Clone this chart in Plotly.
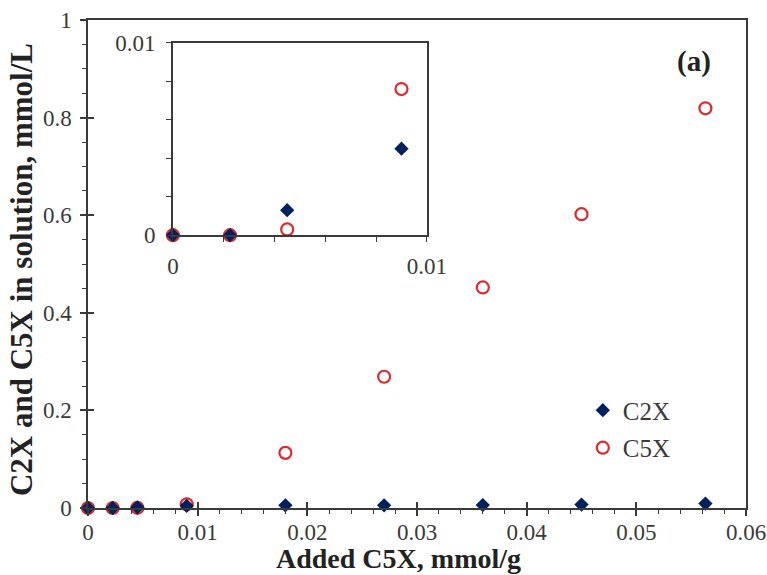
import plotly.graph_objects as go

# ---- data ----
added_c5x = [0, 0.00225, 0.0045, 0.009, 0.018, 0.027, 0.036, 0.045, 0.0563]
c2x_sol = [0, 0, 0.0013, 0.0045, 0.0055, 0.0055, 0.006, 0.007, 0.009]
c5x_sol = [0, 0, 0.0003, 0.0076, 0.113, 0.269, 0.452, 0.602, 0.819]

inset_x_ticks = [0, 0.002, 0.004, 0.006, 0.008, 0.01]
inset_x_labels = ["0", "", "", "", "", "0.01"]
inset_y_ticks = [0, 0.002, 0.004, 0.006, 0.008, 0.01]
inset_y_labels = ["0", "", "", "", "", "0.01"]

NAVY = "#002060"
RED = "#E0282C"
AX = "#3a3a3a"
FONT = "Liberation Serif, Times New Roman, serif"

fig = go.Figure()

# main plot
fig.add_trace(go.Scatter(x=added_c5x, y=c5x_sol, mode="markers", name="C5X",
                         legendgroup="b", legendrank=2,
                         marker=dict(symbol="circle-open", size=12, color=RED,
                                     line=dict(width=2.2, color=RED)),
                         cliponaxis=False, xaxis="x", yaxis="y"))
fig.add_trace(go.Scatter(x=added_c5x, y=c2x_sol, mode="markers", name="C2X",
                         legendgroup="a", legendrank=1,
                         marker=dict(symbol="diamond", size=11, color=NAVY),
                         cliponaxis=False, xaxis="x", yaxis="y"))

# inset (first four points)
fig.add_trace(go.Scatter(x=added_c5x[:4], y=c5x_sol[:4], mode="markers", showlegend=False,
                         marker=dict(symbol="circle-open", size=12, color=RED,
                                     line=dict(width=2.2, color=RED)),
                         cliponaxis=False, xaxis="x2", yaxis="y2"))
fig.add_trace(go.Scatter(x=added_c5x[:4], y=c2x_sol[:4], mode="markers", showlegend=False,
                         marker=dict(symbol="diamond", size=11, color=NAVY),
                         cliponaxis=False, xaxis="x2", yaxis="y2"))

# empty trace to activate overlay axes (inner half of crossing ticks)
fig.add_trace(go.Scatter(x=[], y=[], showlegend=False, xaxis="x3", yaxis="y3",
                         hoverinfo="skip"))

tickfont = dict(family=FONT, size=23, color=AX)

fig.update_layout(
    template="none",
    width=767, height=575,
    margin=dict(l=88, r=21, t=20, b=67, autoexpand=False),
    paper_bgcolor="white", plot_bgcolor="white",
    font=dict(family=FONT, color=AX),
    showlegend=True,
    legend=dict(x=0.752, y=0.162, xanchor="left", yanchor="middle",
                traceorder="grouped", tracegroupgap=2,
                font=dict(family=FONT, size=25, color=AX),
                bgcolor="rgba(0,0,0,0)", itemwidth=30),
    xaxis=dict(domain=[0, 1], range=[0, 0.06], dtick=0.01, anchor="y",
               automargin=False,
               showline=True, linecolor=AX, linewidth=1.5, mirror=True,
               ticks="outside", ticklen=6, tickwidth=1.5, tickcolor=AX,
               showgrid=False, zeroline=False, tickfont=tickfont,
               ticklabelstandoff=-3,
               minor=dict(dtick=0.002, ticks="outside", ticklen=4, tickwidth=1.2,
                          tickcolor=AX, showgrid=False)),
    yaxis=dict(domain=[0, 1], range=[0, 1], dtick=0.2, anchor="x",
               automargin=False,
               showline=True, linecolor=AX, linewidth=1.5, mirror=True,
               ticks="outside", ticklen=6, tickwidth=1.5, tickcolor=AX,
               showgrid=False, zeroline=False, tickfont=tickfont,
               ticklabelstandoff=4,
               minor=dict(dtick=0.05, ticks="outside", ticklen=4, tickwidth=1.2,
                          tickcolor=AX, showgrid=False)),
    xaxis3=dict(overlaying="x", anchor="y3", range=[0, 0.06], dtick=0.01,
                automargin=False,
                ticks="inside", ticklen=6, tickwidth=1.5, tickcolor=AX,
                showticklabels=False, showgrid=False, zeroline=False, showline=False),
    yaxis3=dict(overlaying="y", anchor="x3", range=[0, 1], dtick=0.2,
                automargin=False,
                ticks="inside", ticklen=6, tickwidth=1.5, tickcolor=AX,
                showticklabels=False, showgrid=False, zeroline=False, showline=False),
    xaxis2=dict(domain=[0.129, 0.515], range=[0, 0.01], anchor="y2",
                automargin=False,
                tickvals=inset_x_ticks, ticktext=inset_x_labels,
                showline=True, linecolor=AX, linewidth=1.5, mirror=True,
                ticks="outside", ticklen=5, tickwidth=1.2, tickcolor=AX,
                showgrid=False, zeroline=False, tickfont=tickfont,
                ticklabelstandoff=4),
    yaxis2=dict(domain=[0.559, 0.953], range=[0, 0.01], anchor="x2",
                automargin=False,
                tickvals=inset_y_ticks, ticktext=inset_y_labels,
                showline=True, linecolor=AX, linewidth=1.5, mirror=True,
                ticks="outside", ticklen=5, tickwidth=1.2, tickcolor=AX,
                showgrid=False, zeroline=False, tickfont=tickfont,
                ticklabelstandoff=6),
    annotations=[
        dict(text="<b>Added C5X, mmol/g</b>", xref="paper", yref="paper",
             x=0.472, y=-0.104, xanchor="center", yanchor="middle", showarrow=False,
             font=dict(family=FONT, size=28, color="#222")),
        dict(text="<b>C2X and C5X in solution, mmol/L</b>", xref="paper", yref="paper",
             x=-0.100, y=0.488, xanchor="center", yanchor="middle", showarrow=False,
             textangle=-90, font=dict(family=FONT, size=31, color="#222")),
        dict(text="<b>(a)</b>", xref="paper", yref="paper",
             x=0.921, y=0.915, xanchor="center", yanchor="middle", showarrow=False,
             font=dict(family=FONT, size=29, color="#222")),
    ],
)

fig.write_html("out.html")
